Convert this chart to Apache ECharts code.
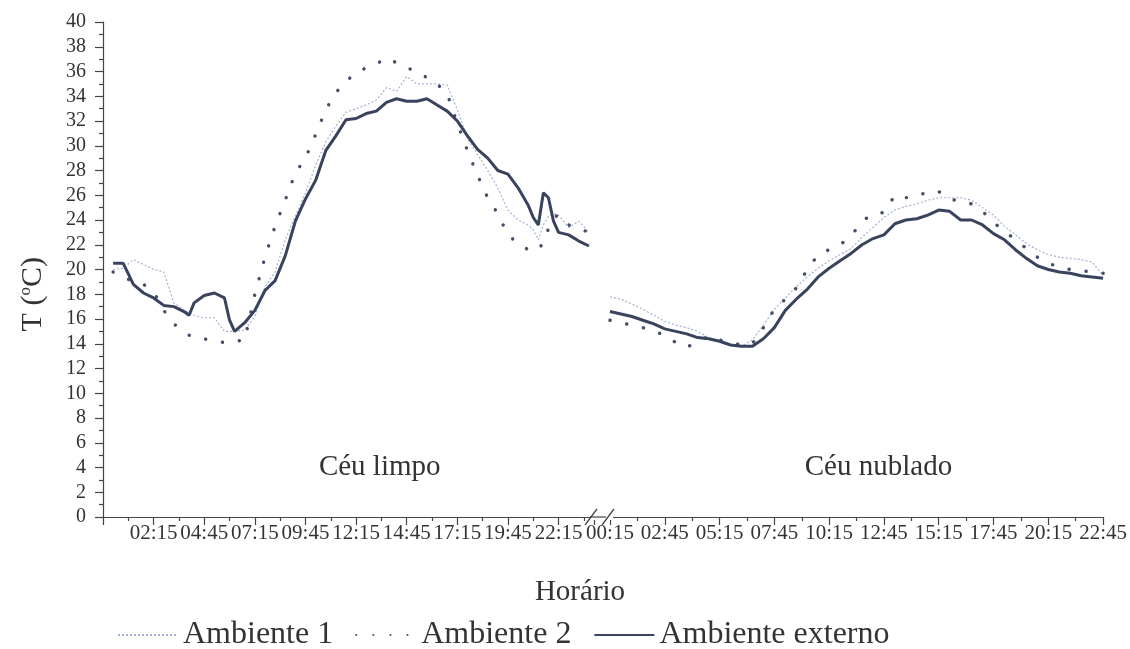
<!DOCTYPE html>
<html><head><meta charset="utf-8">
<script src="https://cdn.jsdelivr.net/npm/echarts@6/dist/echarts.min.js"></script>
<style>html,body{margin:0;padding:0;background:#fff}#c{width:1130px;height:649px}</style>
</head><body><div id="c"></div>
<script>
// Day 1 — "Céu limpo"
var times1 = ["00:15","00:45","01:15","01:45","02:15","02:45","03:15","03:45","04:00","04:15","04:45","05:15","05:45","06:00","06:15","06:45","07:15","07:45","08:15","08:45","09:15","09:45","10:15","10:45","11:15","11:45","12:15","12:45","13:15","13:45","14:15","14:45","15:15","15:45","16:15","16:45","17:15","17:45","18:15","18:45","19:15","19:45","20:15","20:45","21:00","21:15","21:30","21:45","22:00","22:15","22:45","23:15","23:45"];
var ext1  = [20.5,20.5,18.8,18.1,17.7,17.1,17.0,16.6,16.3,17.3,17.9,18.1,17.7,15.9,15.0,15.7,16.7,18.3,19.1,21.1,23.9,25.7,27.2,29.6,30.8,32.1,32.2,32.6,32.8,33.5,33.8,33.6,33.6,33.8,33.3,32.8,32.0,30.8,29.7,29.0,28.0,27.7,26.6,25.2,24.2,23.6,26.2,25.8,23.9,23.0,22.8,22.3,21.9];
var amb1_1 = [20.0,20.1,20.8,20.4,20.0,19.8,17.3,16.7,16.5,16.3,16.1,16.1,15.0,15.0,15.0,15.1,16.2,18.6,19.8,22.4,24.3,26.2,28.4,30.3,31.6,32.7,33.0,33.3,33.7,34.7,34.4,35.6,35.0,35.0,35.0,34.9,32.9,30.6,29.3,28.0,26.6,24.8,24.0,23.6,23.2,22.4,23.6,24.3,24.5,24.4,23.4,23.9,23.0];
var amb2_1 = [19.8,19.4,19.0,18.8,18.2,16.7,15.6,15.0,14.7,14.5,14.4,14.2,14.1,14.1,14.2,14.3,18.0,21.0,23.5,25.6,27.8,29.0,30.9,32.9,34.3,35.2,35.9,36.3,36.6,37.1,36.7,36.3,36.0,35.5,35.0,34.2,31.8,29.6,27.6,25.8,24.5,22.8,22.1,21.6,21.5,21.6,22.2,23.3,24.2,24.4,23.6,23.3,23.0];

// Day 2 — "Céu nublado"
var times2 = ["00:15","00:45","01:15","01:45","02:15","02:45","03:15","03:45","04:15","04:45","05:15","05:45","06:15","06:45","07:15","07:45","08:15","08:45","09:15","09:45","10:15","10:45","11:15","11:45","12:15","12:45","13:15","13:45","14:15","14:45","15:15","15:45","16:15","16:45","17:15","17:45","18:15","18:45","19:15","19:45","20:15","20:45","21:15","21:45","22:15","22:45"];
var ext2  = [16.6,16.4,16.2,15.9,15.6,15.2,15.0,14.8,14.5,14.4,14.2,13.9,13.8,13.8,14.4,15.3,16.7,17.6,18.4,19.4,20.1,20.7,21.3,22.0,22.5,22.8,23.7,24.0,24.1,24.4,24.8,24.7,24.0,24.0,23.6,22.9,22.4,21.6,20.9,20.3,20.0,19.8,19.7,19.5,19.4,19.3];
var amb1_2 = [17.8,17.6,17.2,16.8,16.3,15.8,15.5,15.3,15.0,14.5,14.2,13.9,13.8,14.3,15.5,16.8,17.7,18.6,19.4,20.1,20.7,21.2,21.7,22.6,23.4,24.2,24.8,25.1,25.3,25.6,25.8,25.8,25.8,25.6,25.0,24.4,23.5,22.8,22.1,21.6,21.2,21.0,20.9,20.8,20.6,19.5];
var amb2_2 = [15.9,15.7,15.5,15.3,15.0,14.7,14.1,13.7,14.2,14.6,14.3,14.1,13.9,14.0,15.3,16.8,17.6,18.5,20.0,21.2,21.6,22.0,22.7,23.9,24.5,24.6,26.0,25.8,25.9,26.3,26.3,25.7,25.5,25.3,24.7,23.8,23.1,22.4,21.7,21.0,20.5,20.2,20.0,19.9,19.8,19.7];

var yTicks = {min: 0, max: 40, step: 2};
var seriesNames = ["Ambiente 1", "Ambiente 2", "Ambiente externo"];
var panelLabels = ["Céu limpo", "Céu nublado"];
var xTitle = "Horário";

function toMin(s){ var p = s.split(":"); return (+p[0])*60 + (+p[1]); }
function fmt(m){ m = ((m % 1440) + 1440) % 1440; var h = Math.floor(m/60), mm = m % 60; return (h<10?"0":"")+h+":"+(mm<10?"0":"")+mm; }
// axis coordinate offsets so that labelled times fall on multiples of 150
var OFF1 = 15, OFF2 = 135;
function pairs(times, vals, off){ return times.map(function(t,i){ return [toMin(t)+off, vals[i]]; }); }

var FONT = "Liberation Serif";
var TXT = "#333";
var C_A1 = "#a3b1d2", C_A2 = "#454f68", C_EX = "#39435e";

var chart = echarts.init(document.getElementById('c'), null, {renderer:'canvas'});

function xAxisBase(grid, min, max, off, hideFirst){
  return {
    type:'value', gridIndex:grid, min:min, max:max, interval:150,
    axisLine:{show:true, onZero:false, lineStyle:{color:'#444', width:1.2}},
    axisTick:{show:true, length:8, lineStyle:{color:'#444', width:1.2}},
    minorTick:{show:true, splitNumber:2, length:4, lineStyle:{color:'#444', width:1.2}},
    splitLine:{show:false},
    axisLabel:{
      fontFamily:FONT, fontSize:21, color:TXT, margin:6, showMinLabel:true, showMaxLabel:true,
      formatter:function(v){ if (v % 150 !== 0) return ''; if (hideFirst && v === min) return ''; return fmt(v - off); }
    }
  };
}

var lineA1 = {color:C_A1, width:1.2, type:[2,2]};
var lineA2 = {color:C_A2, width:3.4, type:[0.1,17], cap:'round'};
var lineEX = {color:C_EX, width:3};

var opt = {
  animation:false,
  backgroundColor:'#fff',
  grid:[
    {left:103, right:536, top:22, bottom:132},
    {left:610, right:25, top:22, bottom:132}
  ],
  xAxis:[
    xAxisBase(0, 0, 1455, OFF1, true),
    xAxisBase(1, 150, 1500, OFF2, false)
  ],
  yAxis:[
    {type:'value', gridIndex:0, min:yTicks.min, max:yTicks.max, interval:yTicks.step,
     axisLine:{show:true, lineStyle:{color:'#444', width:1.2}},
     axisTick:{show:true, length:8, lineStyle:{color:'#444', width:1.2}},
     minorTick:{show:true, splitNumber:2, length:4, lineStyle:{color:'#444', width:1.2}},
     splitLine:{show:false},
     axisLabel:{fontFamily:FONT, fontSize:20, color:TXT, margin:17}
    },
    {type:'value', gridIndex:1, min:yTicks.min, max:yTicks.max, interval:yTicks.step, show:false}
  ],
  legend:{
    left:112, top:614, itemWidth:60, itemHeight:16, itemGap:22,
    itemStyle:{opacity:0},
    textStyle:{fontFamily:FONT, fontSize:32, color:TXT},
    data:seriesNames
  },
  series:[
    {name:seriesNames[0], type:'line', xAxisIndex:0, yAxisIndex:0, data:pairs(times1, amb1_1, OFF1), symbol:'none', lineStyle:lineA1, itemStyle:{color:C_A1}, z:2},
    {name:seriesNames[0], type:'line', xAxisIndex:1, yAxisIndex:1, data:pairs(times2, amb1_2, OFF2), symbol:'none', lineStyle:lineA1, itemStyle:{color:C_A1}, z:2},
    {name:seriesNames[1], type:'line', xAxisIndex:0, yAxisIndex:0, data:pairs(times1, amb2_1, OFF1), symbol:'none', lineStyle:lineA2, itemStyle:{color:C_A2}, z:3},
    {name:seriesNames[1], type:'line', xAxisIndex:1, yAxisIndex:1, data:pairs(times2, amb2_2, OFF2), symbol:'none', lineStyle:lineA2, itemStyle:{color:C_A2}, z:3},
    {name:seriesNames[2], type:'line', xAxisIndex:0, yAxisIndex:0, data:pairs(times1, ext1, OFF1), symbol:'none', lineStyle:lineEX, itemStyle:{color:C_EX}, z:4},
    {name:seriesNames[2], type:'line', xAxisIndex:1, yAxisIndex:1, data:pairs(times2, ext2, OFF2), symbol:'none', lineStyle:lineEX, itemStyle:{color:C_EX}, z:4}
  ]
};
chart.setOption(opt);

// decorations: captions, axis titles and axis-break marks, placed through the axes
var capL = chart.convertToPixel({xAxisIndex:0, yAxisIndex:0}, [toMin("13:25")+OFF1, 4.0]);
var capR = chart.convertToPixel({xAxisIndex:1, yAxisIndex:1}, [toMin("12:30")+OFF2, 4.0]);
var endL = chart.convertToPixel({xAxisIndex:0, yAxisIndex:0}, [1455, 0]);
var begR = chart.convertToPixel({xAxisIndex:1, yAxisIndex:1}, [150, 0]);
var yMid = chart.convertToPixel({xAxisIndex:0, yAxisIndex:0}, [0, 18])[1];
var g = [
  {type:'text', x:capL[0], y:capL[1], style:{text:panelLabels[0], fontFamily:FONT, fontSize:29, fill:TXT, align:'center', verticalAlign:'middle'}},
  {type:'text', x:capR[0], y:capR[1], style:{text:panelLabels[1], fontFamily:FONT, fontSize:29, fill:TXT, align:'center', verticalAlign:'middle'}},
  {type:'text', x:580, y:592, style:{text:xTitle, fontFamily:FONT, fontSize:29, fill:TXT, align:'center', verticalAlign:'middle'}},
  {type:'text', x:33, y:yMid, rotation:Math.PI/2,
   style:{text:'{a|T (}{s|o}{a|C)}', fontFamily:FONT, fontSize:30, fill:TXT, align:'center', verticalAlign:'middle',
     rich:{a:{fontFamily:FONT, fontSize:30, fill:TXT, color:TXT}, s:{fontFamily:FONT, fontSize:17, color:TXT, fill:TXT, verticalAlign:'top', padding:[0,0,14,0]}}}},
  {type:'rect', shape:{x:endL[0]-3, y:endL[1]-3, width:begR[0]-endL[0]+6, height:6}, style:{fill:'#fff'}, z:50},
  {type:'line', shape:{x1:endL[0]-9, y1:endL[1]+8, x2:endL[0]+3, y2:endL[1]-8}, style:{stroke:'#444', lineWidth:1.3}, z:51},
  {type:'line', shape:{x1:endL[0]+8, y1:endL[1]+8, x2:endL[0]+20, y2:endL[1]-8}, style:{stroke:'#444', lineWidth:1.3}, z:51},
  {type:'line', shape:{x1:endL[0]-4, y1:endL[1], x2:endL[0]+12, y2:endL[1]}, style:{stroke:'#444', lineWidth:1.2}, z:51}
];
chart.setOption({graphic:g});
</script></body></html>
